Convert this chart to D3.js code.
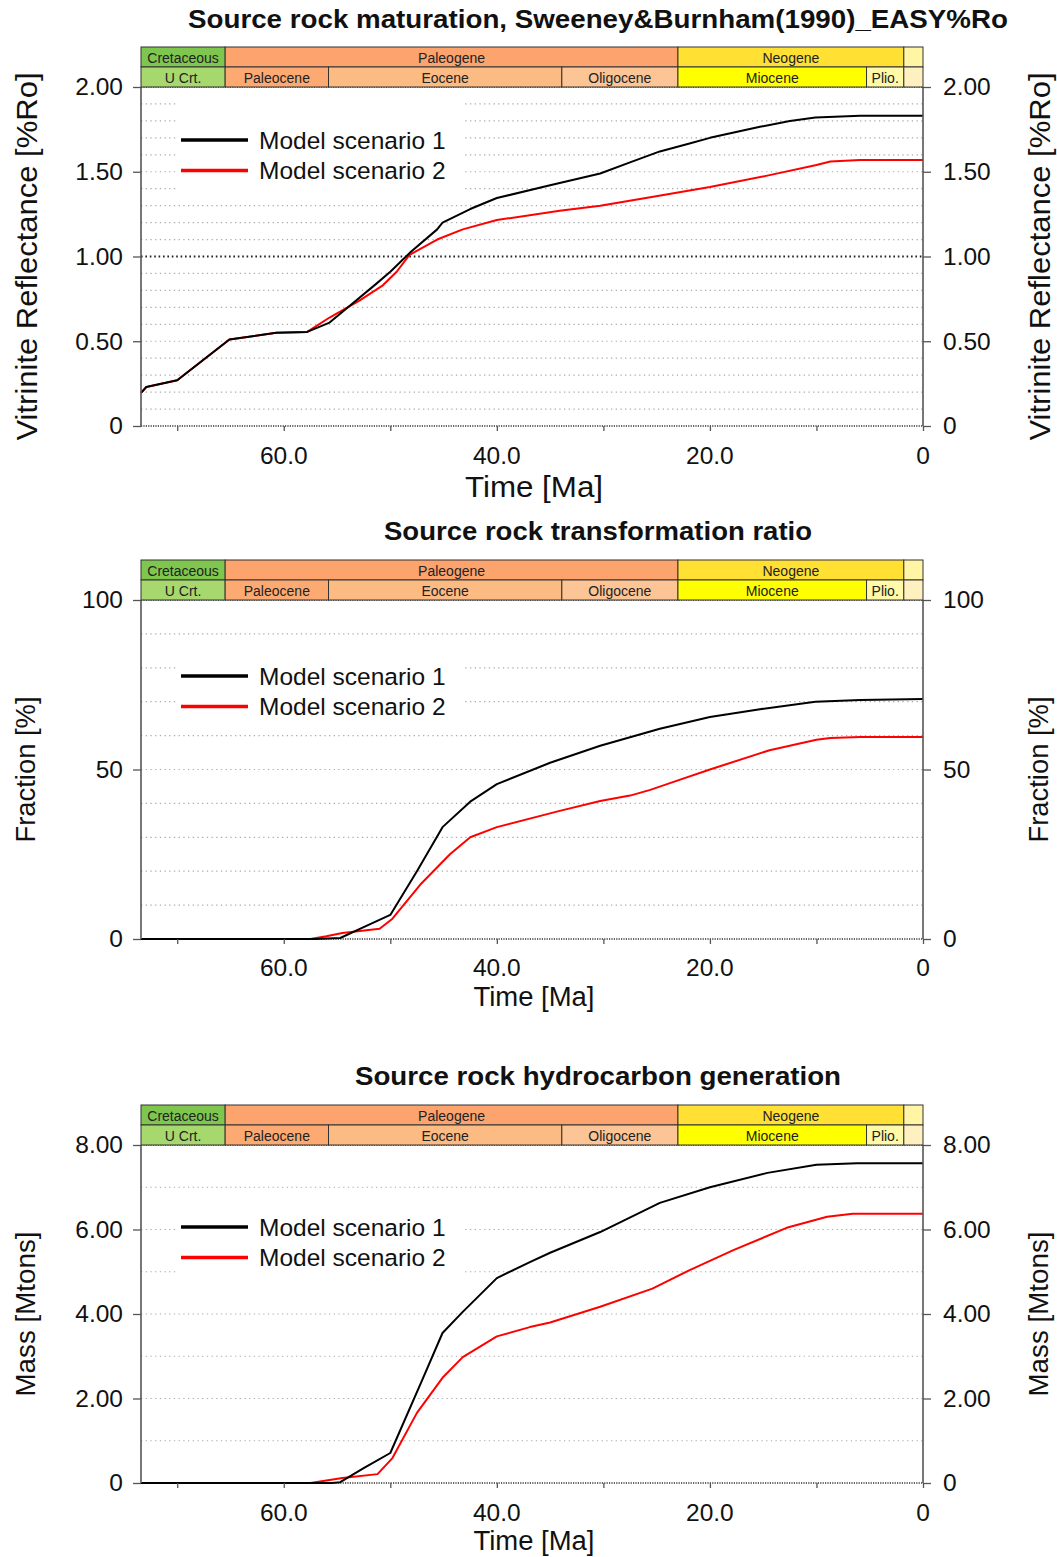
<!DOCTYPE html>
<html>
<head>
<meta charset="utf-8">
<script src="https://cdn.jsdelivr.net/npm/d3@7"></script>
<style>
  body { margin: 0; background: #fff; }
  svg { display: block; font-family: "Liberation Sans", Arial, sans-serif; }
</style>
</head>
<body>
<svg id="chart" width="1057" height="1557"></svg>
<script>
// ---- Series values: [age in Ma, value] ----
const vrScenario1 = [[73.4,0.195],[72.9,0.23],[70.0,0.27],[65.1,0.51],[60.7,0.55],[57.8,0.555],[55.7,0.61],[53.8,0.71],[51.3,0.84],[50.0,0.91],[48.2,1.02],[45.6,1.16],[45.1,1.20],[42.5,1.28],[40.0,1.345],[35.0,1.42],[30.3,1.49],[27.5,1.555],[24.7,1.62],[22.0,1.665],[20.0,1.70],[15.3,1.765],[12.5,1.80],[10.1,1.82],[5.9,1.83],[0,1.83]];
const vrScenario2 = [[73.4,0.195],[72.9,0.23],[70.0,0.27],[65.1,0.51],[60.7,0.55],[57.8,0.555],[55.7,0.64],[52.9,0.74],[50.7,0.83],[49.4,0.91],[48.2,1.01],[45.6,1.10],[43.2,1.16],[40.0,1.215],[34.1,1.27],[30.3,1.30],[25.6,1.35],[20.0,1.41],[14.4,1.48],[10.0,1.54],[8.7,1.56],[5.9,1.57],[0,1.57]];

const trScenario1 = [[73.4,0],[57.0,0],[54.7,0.3],[52.5,3.5],[50.0,7.1],[47.5,20],[45.1,33],[42.5,40.5],[40.0,45.7],[35.0,52],[30.3,57],[24.7,62],[20.0,65.5],[15.3,67.8],[10.1,70],[5.9,70.5],[0,70.8]];
const trScenario2 = [[73.4,0],[57.5,0],[56.0,0.8],[54.5,1.8],[51.0,3],[49.8,6],[47.2,16],[44.4,25],[42.5,30],[40.0,33],[34.1,37.8],[30.3,40.7],[27.5,42.3],[25.6,44],[23.0,46.8],[20.0,50],[14.4,55.7],[10.0,58.8],[8.7,59.3],[5.9,59.6],[0,59.6]];

const genScenario1 = [[73.4,0],[55.5,0],[54.7,0.02],[52.5,0.35],[50.0,0.71],[47.0,2.44],[45.1,3.55],[43.2,4.05],[40.0,4.85],[36.9,5.23],[35.0,5.45],[30.3,5.94],[24.7,6.63],[20.0,7.0],[14.6,7.34],[10.0,7.53],[6.2,7.57],[0,7.57]];
const genScenario2 = [[73.4,0],[57.5,0],[56.0,0.06],[54.5,0.12],[51.2,0.21],[49.8,0.59],[47.5,1.66],[45.1,2.49],[43.2,2.98],[40.0,3.47],[36.9,3.69],[35.0,3.8],[30.3,4.17],[25.4,4.6],[21.9,5.04],[17.8,5.51],[12.8,6.04],[9.0,6.3],[6.6,6.37],[0,6.37]];

// ---- Axis ticks ----
const xTickValues = [60, 40, 20, 0];
const xTickLabels = ["60.0", "40.0", "20.0", "0"];
const xMinorTicks = [70, 60, 50, 40, 30, 20, 10, 0];

const vrTickValues = [0, 0.5, 1.0, 1.5, 2.0];
const vrTickLabels = ["0", "0.50", "1.00", "1.50", "2.00"];
const trTickValues = [0, 50, 100];
const trTickLabels = ["0", "50", "100"];
const genTickValues = [0, 2, 4, 6, 8];
const genTickLabels = ["0", "2.00", "4.00", "6.00", "8.00"];

const legendLabels = ["Model scenario 1", "Model scenario 2"];
const seriesColors = ["#000000", "#ff0000"];

// ---- Geologic time scale (Ma) ----
const periodNames  = ["Cretaceous", "Paleogene", "Neogene", ""];
const periodStarts = [73.4, 65.5, 23.0, 1.8];
const periodEnds   = [65.5, 23.0, 1.8, 0];
const periodColors = ["#7fc64e", "#fca36e", "#ffe033", "#fff5a5"];

const epochNames  = ["U Crt.", "Paleocene", "Eocene", "Oligocene", "Miocene", "Plio.", ""];
const epochStarts = [73.4, 65.5, 55.8, 33.9, 23.0, 5.3, 1.8];
const epochEnds   = [65.5, 55.8, 33.9, 23.0, 5.3, 1.8, 0];
const epochColors = ["#a6d86e", "#fdaa72", "#fdbb84", "#fdc596", "#ffff00", "#fff9a8", "#fff0c0"];

// ---- Layout ----
const svg = d3.select("#chart");
const left = 141, right = 923;
const x = d3.scaleLinear().domain([73.4, 0]).range([left, right]);

const panels = [
  { title: "Source rock maturation, Sweeney&Burnham(1990)_EASY%Ro", titleY: 19, titleLen: 820,
    yLabel: "Vitrinite Reflectance [%Ro]", yLabelSize: 30, yLabelLen: 368,
    top: 87, bottom: 426, yMax: 2, minorStep: 0.1, boldLevels: [1.0],
    ticks: vrTickValues, labels: vrTickLabels, series: [vrScenario1, vrScenario2],
    xLabelY: 455, xTitleY: 486, xTitleSize: 30, xTitleLen: 138, legendY: 140, legendBox: [96, 198] },
  { title: "Source rock transformation ratio", titleY: 531, titleLen: 428,
    yLabel: "Fraction [%]", yLabelSize: 27, yLabelLen: 146,
    top: 600, bottom: 939, yMax: 100, minorStep: 10, boldLevels: [],
    ticks: trTickValues, labels: trTickLabels, series: [trScenario1, trScenario2],
    xLabelY: 967, xTitleY: 997, xTitleSize: 27, xTitleLen: 121, legendY: 676, legendBox: [651, 721] },
  { title: "Source rock hydrocarbon generation", titleY: 1076, titleLen: 486,
    yLabel: "Mass [Mtons]", yLabelSize: 27, yLabelLen: 165,
    top: 1145, bottom: 1483, yMax: 8, minorStep: 1, boldLevels: [],
    ticks: genTickValues, labels: genTickLabels, series: [genScenario1, genScenario2],
    xLabelY: 1512, xTitleY: 1541, xTitleSize: 27, xTitleLen: 121, legendY: 1227, legendBox: [1201, 1289] }
];

panels.forEach(p => {
  const g = svg.append("g");
  const y = d3.scaleLinear().domain([0, p.yMax]).range([p.bottom, p.top]);
  const minorVals = d3.range(0, p.yMax + p.minorStep / 2, p.minorStep).map(v => +v.toFixed(4));

  // Title
  g.append("text").attr("x", 598).attr("y", p.titleY)
    .attr("text-anchor", "middle").attr("dominant-baseline", "central")
    .attr("font-size", 25).attr("font-weight", "bold").attr("fill", "#111")
    .attr("textLength", p.titleLen).attr("lengthAdjust", "spacingAndGlyphs")
    .text(p.title);

  // Gridlines
  g.append("g").selectAll("line").data(minorVals.filter(v => v > 0 && v < p.yMax && !p.boldLevels.includes(v)))
    .join("line")
    .attr("x1", left).attr("x2", right)
    .attr("y1", d => y(d)).attr("y2", d => y(d))
    .attr("stroke", "#ababab").attr("stroke-width", 1.2).attr("stroke-dasharray", "1.3,3.4");
  g.append("g").selectAll("line").data(p.boldLevels)
    .join("line")
    .attr("x1", left).attr("x2", right)
    .attr("y1", d => y(d)).attr("y2", d => y(d))
    .attr("stroke", "#222").attr("stroke-width", 1.8).attr("stroke-dasharray", "1.6,2.8");
  // Top and bottom frame (dense dotted)
  g.append("g").selectAll("line").data([0, p.yMax])
    .join("line")
    .attr("x1", left).attr("x2", right)
    .attr("y1", d => y(d)).attr("y2", d => y(d))
    .attr("stroke", "#333").attr("stroke-width", 1.6).attr("stroke-dasharray", "1.2,1.2");

  // Legend background
  g.append("rect").attr("x", 178).attr("y", p.legendBox[0])
    .attr("width", 285).attr("height", p.legendBox[1] - p.legendBox[0]).attr("fill", "#fff");

  // Series lines
  const line = d3.line().x(d => x(d[0])).y(d => y(d[1]));
  [1, 0].forEach(i => {
    g.append("path").datum(p.series[i])
      .attr("d", line).attr("fill", "none")
      .attr("stroke", seriesColors[i]).attr("stroke-width", 2)
      .attr("stroke-linejoin", "round");
  });

  // Legend
  legendLabels.forEach((lab, i) => {
    const ly = p.legendY + i * 30.5;
    g.append("line").attr("x1", 181).attr("x2", 248).attr("y1", ly).attr("y2", ly)
      .attr("stroke", seriesColors[i]).attr("stroke-width", 3.5);
    g.append("text").attr("x", 259).attr("y", ly).attr("dominant-baseline", "central")
      .attr("font-size", 24.5).attr("fill", "#111").text(lab);
  });

  // Left axis
  const axL = g.append("g").attr("transform", `translate(${left},0)`);
  axL.call(d3.axisLeft(y).tickValues(minorVals).tickSize(4).tickFormat(""));
  axL.call(d3.axisLeft(y).tickValues(p.ticks).tickSize(8).tickPadding(10)
    .tickFormat((d, i) => p.labels[i]));
  // Right axis
  const axR = g.append("g").attr("transform", `translate(${right},0)`);
  axR.call(d3.axisRight(y).tickValues(minorVals).tickSize(4).tickFormat(""));
  axR.call(d3.axisRight(y).tickValues(p.ticks).tickSize(8).tickPadding(12)
    .tickFormat((d, i) => p.labels[i]));
  [axL, axR].forEach(a => {
    a.selectAll(".domain").remove();
    a.selectAll("line").attr("stroke", "#555").attr("stroke-width", 1.3);
    a.selectAll("text").attr("font-size", 24.5).attr("fill", "#111")
      .attr("font-family", "Liberation Sans, Arial, sans-serif");
  });
  // Axis spines
  [left, right].forEach(xx => {
    g.append("line").attr("x1", xx).attr("x2", xx)
      .attr("y1", p.top).attr("y2", p.bottom)
      .attr("stroke", "#555").attr("stroke-width", 1.6);
  });

  // Bottom axis
  const axB = g.append("g").attr("transform", `translate(0,${p.bottom})`);
  axB.call(d3.axisBottom(x).tickValues(xMinorTicks).tickSize(5).tickFormat(""));
  axB.selectAll(".domain").remove();
  axB.selectAll("line").attr("stroke", "#555").attr("stroke-width", 1.3);
  g.append("g").selectAll("text").data(xTickValues).join("text")
    .attr("x", d => x(d)).attr("y", p.xLabelY)
    .attr("text-anchor", "middle").attr("dominant-baseline", "central")
    .attr("font-size", 24.5).attr("fill", "#111")
    .text((d, i) => xTickLabels[i]);
  g.append("text").attr("x", 534).attr("y", p.xTitleY)
    .attr("text-anchor", "middle").attr("dominant-baseline", "central")
    .attr("font-size", p.xTitleSize).attr("fill", "#111")
    .attr("textLength", p.xTitleLen).attr("lengthAdjust", "spacingAndGlyphs")
    .text("Time [Ma]");

  // Y axis titles (both sides)
  const yMid = (p.top + p.bottom) / 2;
  [[26, yMid], [1039, yMid]].forEach(([tx, ty]) => {
    g.append("text").attr("transform", `translate(${tx},${ty}) rotate(-90)`)
      .attr("text-anchor", "middle").attr("dominant-baseline", "central")
      .attr("font-size", p.yLabelSize).attr("fill", "#111")
      .attr("textLength", p.yLabelLen).attr("lengthAdjust", "spacingAndGlyphs")
      .text(p.yLabel);
  });

  // Geologic time header
  const hTop = p.top - 40, rowH = 20;
  const hdr = g.append("g");
  const rows = [
    { names: periodNames, s: periodStarts, e: periodEnds, c: periodColors, y0: hTop },
    { names: epochNames, s: epochStarts, e: epochEnds, c: epochColors, y0: hTop + rowH }
  ];
  rows.forEach(r => {
    const cells = r.names.map((n, i) => ({ n, s: r.s[i], e: r.e[i], c: r.c[i] }));
    hdr.append("g").selectAll("rect").data(cells).join("rect")
      .attr("x", d => x(d.s)).attr("y", r.y0)
      .attr("width", d => x(d.e) - x(d.s)).attr("height", rowH)
      .attr("fill", d => d.c).attr("stroke", "#333").attr("stroke-width", 1);
    hdr.append("g").selectAll("text").data(cells).join("text")
      .attr("x", d => (x(d.s) + x(d.e)) / 2).attr("y", r.y0 + rowH / 2 + 1)
      .attr("text-anchor", "middle").attr("dominant-baseline", "central")
      .attr("font-size", 14).attr("fill", "#222").text(d => d.n);
  });
});
</script>
</body>
</html>
